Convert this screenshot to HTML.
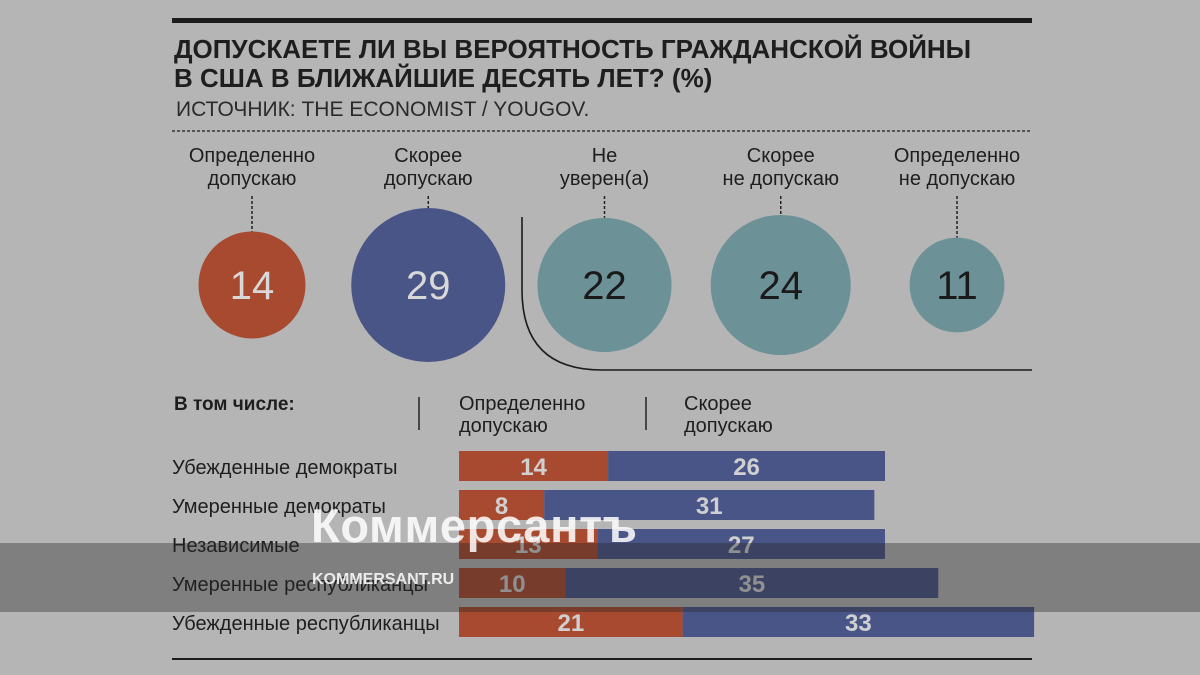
<!DOCTYPE html>
<html><head><meta charset="utf-8"><style>
html,body{margin:0;padding:0;background:#b5b5b5;}
svg{display:block;font-family:"Liberation Sans","Noto Sans CJK SC",sans-serif;}
</style></head><body>
<svg id="c" width="1200" height="675" viewBox="0 0 1200 675" xmlns="http://www.w3.org/2000/svg">
<rect width="1200" height="675" fill="#b5b5b5"/>
<rect x="172" y="18" width="860" height="5" fill="#1c1c1c"/>
<text x="174" y="58" font-size="26" font-weight="bold" fill="#1e1e1e"><tspan x="174">ДОПУСКАЕТЕ ЛИ ВЫ ВЕРОЯТНОСТЬ ГРАЖДАНСКОЙ ВОЙНЫ</tspan><tspan x="174" dy="29">В США В БЛИЖАЙШИЕ ДЕСЯТЬ ЛЕТ? (%)</tspan></text>
<text x="176" y="116" font-size="21" fill="#2a2a2a">ИСТОЧНИК: THE ECONOMIST / YOUGOV.</text>
<line x1="172" y1="131" x2="1032" y2="131" stroke="#333" stroke-width="1.5" stroke-dasharray="3,2"/>
<path d="M522 217 V290 Q522 370 602 370 H1032" fill="none" stroke="#1c1c1c" stroke-width="1.6"/>
<g id="circles"></g>
<text x="174" y="410" font-size="19" font-weight="bold" fill="#1e1e1e">В том числе:</text>
<line x1="419" y1="397" x2="419" y2="430" stroke="#222" stroke-width="1.5"/>
<line x1="646" y1="397" x2="646" y2="430" stroke="#222" stroke-width="1.5"/>
<text font-size="20" fill="#1e1e1e"><tspan x="459" y="410">Определенно</tspan><tspan x="459" y="432">допускаю</tspan></text>
<text font-size="20" fill="#1e1e1e"><tspan x="684" y="410">Скорее</tspan><tspan x="684" y="432">допускаю</tspan></text>
<g id="bars"></g>
<rect x="172" y="658" width="860" height="2" fill="#1c1c1c"/>
<rect x="0" y="543" width="1200" height="69" fill="rgba(40,40,40,0.38)"/>
<text x="311" y="542" font-size="47" font-weight="bold" fill="rgba(255,255,255,0.85)" textLength="326">Коммерсантъ</text>
<text x="312" y="584" font-size="16" font-weight="bold" fill="rgba(255,255,255,0.85)">KOMMERSANT.RU</text>
</svg>
<script>
const circleLabels1=["Определенно","Скорее","Не","Скорее","Определенно"];
const circleLabels2=["допускаю","допускаю","уверен(а)","не допускаю","не допускаю"];
const circleValues=[14,29,22,24,11];
const circleColors=["#a84a2f","#4a5587","#6c9297","#6c9297","#6c9297"];
const groups=["Убежденные демократы","Умеренные демократы","Независимые","Умеренные республиканцы","Убежденные республиканцы"];
const definitely=[14,8,13,10,21];
const rather=[26,31,27,35,33];

const NS="http://www.w3.org/2000/svg";
function mk(t,a,p){const e=document.createElementNS(NS,t);for(const k in a)e.setAttribute(k,a[k]);p.appendChild(e);return e;}
const cx=i=>252+i*176.25, cy=285, rS=v=>14.3*Math.sqrt(v);
const cg=document.getElementById('circles');
circleValues.forEach((v,i)=>{
  const x=cx(i), r=rS(v);
  const t=mk('text',{x:x,'text-anchor':'middle','font-size':20,fill:'#1e1e1e'},cg);
  
  
  mk('tspan',{x:x,y:162},t).textContent=circleLabels1[i];
  mk('tspan',{x:x,y:185},t).textContent=circleLabels2[i];
  const l=mk('line',{x1:x,y1:196,x2:x,y2:cy-r,stroke:'#222','stroke-width':1.5,'stroke-dasharray':'3,2'},cg);
  
  
  const c=mk('circle',{cx:x,cy:cy,r:r,fill:circleColors[i]},cg);
  
  
  const n=mk('text',{x:x,y:cy+14,'text-anchor':'middle','font-size':40,fill:i<2?'#d8d8d8':'#1a1a1a'},cg);
  
  
  n.textContent=v;
});
const bg=document.getElementById('bars');
const x0=459, k=10.65, rowY=i=>451+i*39, bh=30;
groups.forEach((g,i)=>{
  const y=rowY(i);
  const lab=mk('text',{x:172,y:y+23,'font-size':20,fill:'#1e1e1e'},bg);
  
  
  lab.textContent=g;
  const w1=definitely[i]*k, w2=rather[i]*k;
  const b1=mk('rect',{x:x0,y:y,width:w1,height:bh,fill:'#a84a2f'},bg);
  
  
  const b2=mk('rect',{x:x0+w1,y:y,width:w2,height:bh,fill:'#4a5587'},bg);
  
  
  const t1=mk('text',{x:x0+w1/2,y:y+24,'text-anchor':'middle','font-size':24,'font-weight':'bold',fill:'#d0d0d0'},bg);
  
  
  t1.textContent=definitely[i];
  const t2=mk('text',{x:x0+w1+w2/2,y:y+24,'text-anchor':'middle','font-size':24,'font-weight':'bold',fill:'#d0d0d0'},bg);
  
  
  t2.textContent=rather[i];
});
</script>
</body></html>
